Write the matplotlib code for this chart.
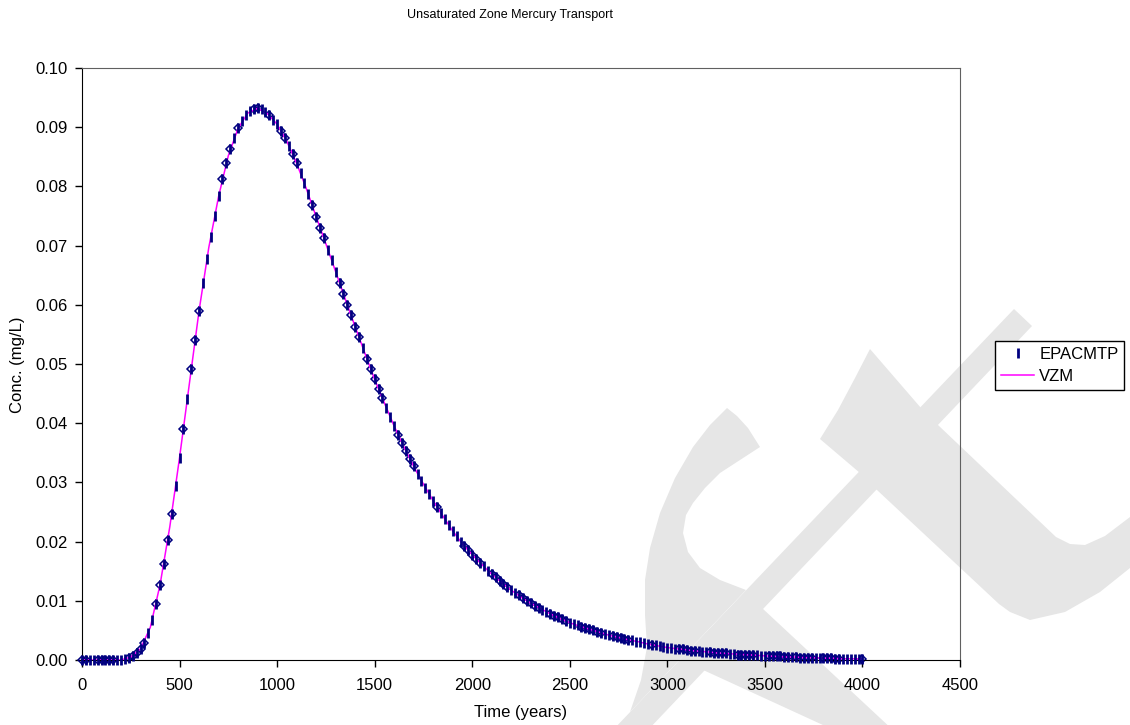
"""
Breakthrough curve for mercury in the unsaturated zone: EPACMTP vs VZM.
Writes out.png.
"""

import matplotlib
matplotlib.use("Agg")  # no display here
import matplotlib.pyplot as plt
from matplotlib.lines import Line2D
from matplotlib.patches import Polygon
from matplotlib.ticker import FormatStrFormatter, MultipleLocator

plt.rcParams["font.family"] = ["Liberation Sans", "DejaVu Sans"]

# EPACMTP output, one value every 20 years (0 .. 4000)
epa_years = list(range(0, 4001, 20))
epa_conc = [
    0.0000, 0.0000, 0.0000, 0.0000, 0.0000, 0.0000, 0.0000, 0.0000, 0.0000, 0.0000,
    0.0000, 0.0001, 0.0003, 0.0007, 0.0012, 0.0019, 0.0029, 0.0045, 0.0067, 0.0095,
    0.0127, 0.0163, 0.0203, 0.0247, 0.0294, 0.0342, 0.0391, 0.0441, 0.0491, 0.0541,
    0.0590, 0.0636, 0.0678, 0.0715, 0.0750, 0.0783, 0.0813, 0.0840, 0.0863, 0.0882,
    0.0898, 0.0911, 0.0920, 0.0927, 0.0931, 0.0932, 0.0930, 0.0926, 0.0920, 0.0913,
    0.0905, 0.0894, 0.0882, 0.0869, 0.0855, 0.0839, 0.0822, 0.0805, 0.0787, 0.0768,
    0.0749, 0.0730, 0.0712, 0.0693, 0.0675, 0.0656, 0.0637, 0.0618, 0.0600, 0.0582,
    0.0563, 0.0545, 0.0527, 0.0509, 0.0491, 0.0474, 0.0458, 0.0442, 0.0426, 0.0410,
    0.0395, 0.0380, 0.0366, 0.0353, 0.0340, 0.0327, 0.0315, 0.0303, 0.0291, 0.0280,
    0.0269, 0.0258, 0.0248, 0.0238, 0.0228, 0.0218, 0.0209, 0.0200, 0.0192, 0.0185,
    0.0178, 0.0171, 0.0164, 0.0158, 0.0151, 0.0145, 0.0140, 0.0134, 0.0128, 0.0123,
    0.0118, 0.0113, 0.0109, 0.0104, 0.0100, 0.0096, 0.0092, 0.0088, 0.0085, 0.0081,
    0.0078, 0.0075, 0.0072, 0.0069, 0.0066, 0.0063, 0.0061, 0.0059, 0.0056, 0.0054,
    0.0052, 0.0050, 0.0048, 0.0046, 0.0044, 0.0042, 0.0040, 0.0039, 0.0037, 0.0036,
    0.0034, 0.0033, 0.0031, 0.0030, 0.0028, 0.0027, 0.0026, 0.0025, 0.0023, 0.0022,
    0.0021, 0.0020, 0.0019, 0.0019, 0.0018, 0.0017, 0.0016, 0.0016, 0.0015, 0.0014,
    0.0014, 0.0013, 0.0012, 0.0012, 0.0011, 0.0011, 0.0010, 0.0010, 0.0009, 0.0009,
    0.0009, 0.0008, 0.0008, 0.0008, 0.0007, 0.0007, 0.0007, 0.0006, 0.0006, 0.0006,
    0.0005, 0.0005, 0.0005, 0.0005, 0.0004, 0.0004, 0.0004, 0.0004, 0.0003, 0.0003,
    0.0003, 0.0003, 0.0003, 0.0002, 0.0002, 0.0002, 0.0002, 0.0002, 0.0002, 0.0002,
    0.0002,
]

# VZM solution curve, every 50 years
vzm_years = list(range(0, 4001, 50))
vzm_conc = [
    0.0000, 0.0000, 0.0000, 0.0000, 0.0000, 0.0005, 0.0019, 0.0055, 0.0127, 0.0225,
    0.0342, 0.0466, 0.0590, 0.0697, 0.0783, 0.0852, 0.0898, 0.0924, 0.0932, 0.0923,
    0.0905, 0.0876, 0.0839, 0.0796, 0.0749, 0.0703, 0.0656, 0.0609, 0.0563, 0.0518,
    0.0474, 0.0434, 0.0395, 0.0360, 0.0327, 0.0297, 0.0269, 0.0243, 0.0218, 0.0196,
    0.0178, 0.0161, 0.0145, 0.0131, 0.0118, 0.0106, 0.0096, 0.0087, 0.0078, 0.0070,
    0.0063, 0.0057, 0.0052, 0.0047, 0.0042, 0.0038, 0.0034, 0.0031, 0.0027, 0.0024,
    0.0021, 0.0019, 0.0017, 0.0015, 0.0014, 0.0012, 0.0011, 0.0010, 0.0009, 0.0008,
    0.0007, 0.0006, 0.0005, 0.0005, 0.0004, 0.0004, 0.0003, 0.0003, 0.0002, 0.0002,
    0.0002,
]

# VZM print-out times (hollow diamonds, not in the legend)
node_years = [
    0, 20, 80, 100, 120, 140, 160, 240, 260, 280,
    300, 320, 380, 400, 420, 440, 460, 520, 560, 580,
    600, 720, 740, 760, 800, 880, 900, 960, 1020, 1040,
    1080, 1100, 1180, 1200, 1220, 1240, 1320, 1340, 1360, 1380,
    1400, 1420, 1460, 1480, 1500, 1520, 1540, 1620, 1640, 1660,
    1680, 1700, 1820, 1960, 1980, 2000, 2020, 2040, 2100, 2120,
    2140, 2160, 2180, 2240, 2260, 2280, 2300, 2320, 2340, 2400,
    2420, 2440, 2460, 2480, 2560, 2580, 2600, 2620, 2640, 2660,
    2720, 2740, 2760, 2780, 2800, 2920, 3060, 3080, 3100, 3120,
    3140, 3220, 3240, 3260, 3280, 3300, 3360, 3380, 3400, 3420,
    3440, 3520, 3540, 3560, 3580, 3600, 3620, 3660, 3680, 3700,
    3720, 3740, 3800, 3820, 3840, 3860, 3880, 4000,
]
node_conc = [
    0.0000, 0.0000, 0.0000, 0.0000, 0.0000, 0.0000, 0.0000, 0.0003, 0.0007, 0.0012,
    0.0019, 0.0029, 0.0095, 0.0127, 0.0163, 0.0203, 0.0247, 0.0391, 0.0491, 0.0541,
    0.0590, 0.0813, 0.0840, 0.0863, 0.0898, 0.0931, 0.0932, 0.0920, 0.0894, 0.0882,
    0.0855, 0.0839, 0.0768, 0.0749, 0.0730, 0.0712, 0.0637, 0.0618, 0.0600, 0.0582,
    0.0563, 0.0545, 0.0509, 0.0491, 0.0474, 0.0458, 0.0442, 0.0380, 0.0366, 0.0353,
    0.0340, 0.0327, 0.0258, 0.0192, 0.0185, 0.0178, 0.0171, 0.0164, 0.0145, 0.0140,
    0.0134, 0.0128, 0.0123, 0.0109, 0.0104, 0.0100, 0.0096, 0.0092, 0.0088, 0.0078,
    0.0075, 0.0072, 0.0069, 0.0066, 0.0056, 0.0054, 0.0052, 0.0050, 0.0048, 0.0046,
    0.0040, 0.0039, 0.0037, 0.0036, 0.0034, 0.0026, 0.0019, 0.0018, 0.0017, 0.0016,
    0.0016, 0.0013, 0.0012, 0.0012, 0.0011, 0.0011, 0.0009, 0.0009, 0.0009, 0.0008,
    0.0008, 0.0007, 0.0006, 0.0006, 0.0006, 0.0005, 0.0005, 0.0005, 0.0004, 0.0004,
    0.0004, 0.0004, 0.0003, 0.0003, 0.0003, 0.0002, 0.0002, 0.0002,
]

NAVY = "#000080"
MAGENTA = "#ff00ff"
W, H = 1130, 725

# faint logo stamp behind the chart, outlines in pixels from the top-left corner
STAMP = [
    [(613, 730), (1014, 309), (1032, 326), (647, 731)],
    [(727, 408), (710, 425), (693, 447), (675, 478), (660, 513), (650, 548),
     (645, 580), (645, 615), (647, 647), (641, 680), (630, 712), (746, 590),
     (720, 580), (700, 568), (688, 552), (683, 533), (686, 515), (693, 503),
     (705, 488), (720, 473), (740, 460), (760, 447), (748, 428), (737, 416)],
    [(701, 669), (762, 608), (894, 731), (836, 731)],
    [(870, 349), (921, 408), (938, 425), (1056, 537), (1070, 544), (1085, 545),
     (1105, 536), (1130, 517), (1130, 568), (1100, 592), (1065, 612), (1030, 620),
     (1010, 612), (999, 604), (877, 490), (860, 473), (820, 439), (838, 410),
     (855, 378)],
]


def to_fig(points):
    return [(x / W, 1 - y / H) for x, y in points]


def main():
    fig = plt.figure(figsize=(W / 100, H / 100), dpi=100)

    for shape in STAMP:
        fig.add_artist(Polygon(to_fig(shape), closed=True, transform=fig.transFigure,
                               facecolor="#e6e6e6", edgecolor="none", zorder=-1))

    ax = fig.add_axes([82 / W, 1 - 660 / H, 878 / W, 592 / H])
    ax.set_facecolor("none")

    ax.plot(node_years, node_conc, ls="none", marker="D", ms=4.2, mfc="none",
            mec=NAVY, mew=1.1, clip_on=False, zorder=2)
    ax.plot(vzm_years, vzm_conc, color=MAGENTA, lw=1.1, zorder=3)
    ax.plot(epa_years, epa_conc, ls="none", marker="|", ms=7, mew=2,
            color=NAVY, clip_on=False, zorder=4)

    ax.set_xlim(0, 4500)
    ax.set_ylim(0, 0.10)
    ax.xaxis.set_major_locator(MultipleLocator(500))
    ax.yaxis.set_major_locator(MultipleLocator(0.01))
    ax.yaxis.set_major_formatter(FormatStrFormatter("%.2f"))
    ax.tick_params(direction="out", length=5, width=1, labelsize=12)
    ax.tick_params(axis="x", pad=8)
    ax.tick_params(axis="y", pad=5.5)
    for side in ("left", "bottom"):
        ax.spines[side].set_color("black")
    for side in ("top", "right"):
        ax.spines[side].set_color("#606060")

    fig.text(510 / W, 1 - 15 / H, "Unsaturated Zone Mercury Transport",
             ha="center", va="center", fontsize=9)
    fig.text(521 / W, 1 - 712 / H, "Time (years)", ha="center", va="center", fontsize=12)
    fig.text(18 / W, 1 - 365 / H, "Conc. (mg/L)", ha="center", va="center",
             rotation=90, fontsize=12)

    handles = [
        Line2D([], [], ls="none", marker="|", ms=7, mew=2, color=NAVY),
        Line2D([], [], color=MAGENTA, lw=1.1),
    ]
    leg = fig.legend(handles, ["EPACMTP", "VZM"], loc="upper left",
                     bbox_to_anchor=(995 / W, 1 - 341 / H), borderaxespad=0,
                     fancybox=False, edgecolor="black", framealpha=1, fontsize=12,
                     handlelength=2.0, handletextpad=0.3, labelspacing=0.43,
                     borderpad=0.35)
    leg.get_frame().set_linewidth(1)

    fig.savefig("out.png", dpi=100)
    plt.close(fig)


if __name__ == "__main__":
    main()
